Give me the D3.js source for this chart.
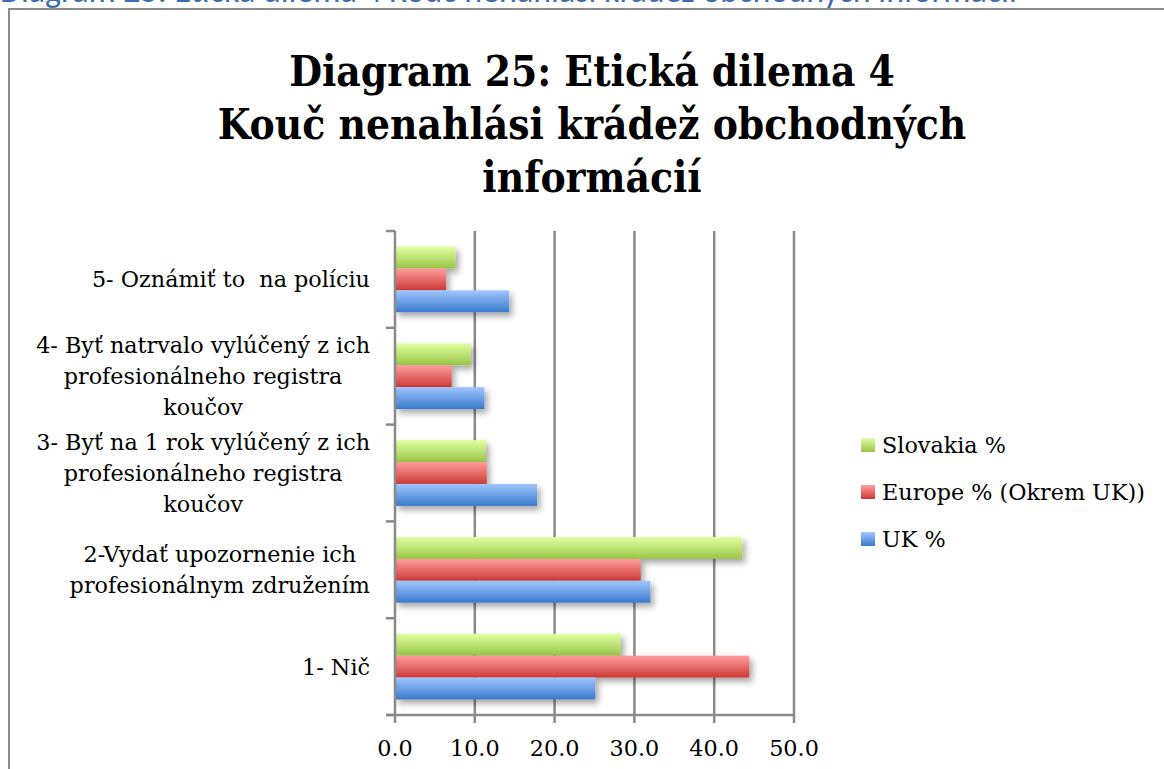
<!DOCTYPE html>
<html><head><meta charset="utf-8">
<script src="https://cdn.jsdelivr.net/npm/d3@7"></script>
<style>
html,body{margin:0;padding:0;background:#fff;overflow:hidden;}
svg{display:block;}
text{white-space:pre;}
</style></head>
<body>
<svg id="chart" width="1164" height="769"></svg>
<script>
// ---- data ----
const categories = [
  "5- Oznámiť to  na políciu",
  "4- Byť natrvalo vylúčený z ich\nprofesionálneho registra\nkoučov",
  "3- Byť na 1 rok vylúčený z ich\nprofesionálneho registra\nkoučov",
  "2-Vydať upozornenie ich\nprofesionálnym združením",
  "1- Nič"
];
const seriesNames = ["Slovakia %", "Europe % (Okrem UK))", "UK %"];
const slovakia = [7.6, 9.5, 11.4, 43.5, 28.3];
const europe   = [6.4, 7.1, 11.5, 30.8, 44.4];
const uk       = [14.3, 11.2, 17.8, 32.0, 25.1];
const xTicks = [0, 10, 20, 30, 40, 50];
const titleLines = ["Diagram 25: Etická dilema 4", "Kouč nenahlási krádež obchodných", "informácií"];
const captionText = "Diagram 25: Etická dilema 4 Kouč nenahlási krádež obchodných informácií";

const seriesValues = [slovakia, europe, uk];
const gradStops = [["#e0ffa2", "#9ac548"], ["#ff9e9c", "#cc3935"], ["#a0c6ff", "#3a7acb"]];

const svg = d3.select("#chart");
const defs = svg.append("defs");
gradStops.forEach((g, i) => {
  const lg = defs.append("linearGradient").attr("id", "g" + i)
    .attr("x1", 0).attr("y1", 0).attr("x2", 0).attr("y2", 1);
  lg.append("stop").attr("offset", "0%").attr("stop-color", g[0]);
  lg.append("stop").attr("offset", "100%").attr("stop-color", g[1]);
});
const f = defs.append("filter").attr("id", "shadow")
  .attr("x", "-10%").attr("y", "-30%").attr("width", "130%").attr("height", "180%");
f.append("feDropShadow").attr("dx", 3).attr("dy", 4).attr("stdDeviation", 3)
  .attr("flood-color", "#000").attr("flood-opacity", 0.35);

// caption clipped at top (as in the reference)
svg.append("text").attr("x", 0).attr("y", 2)
  .attr("font-family", "Carlito, 'Open Sans', sans-serif").attr("font-size", 34)
  .attr("fill", "#3d6cb0").text(captionText);

// frame
svg.append("rect").attr("x", 9).attr("y", 9).attr("width", 1200).attr("height", 800)
  .attr("fill", "#fff").attr("stroke", "#8a8a8a").attr("stroke-width", 2);

// title
const titleFont = "'DejaVu Serif Condensed', 'Liberation Serif', serif";
svg.append("g").selectAll("text").data(titleLines).join("text")
  .attr("x", 592).attr("y", (d, i) => 86 + i * 53)
  .attr("text-anchor", "middle")
  .attr("font-family", titleFont).attr("font-weight", "bold").attr("font-size", 42)
  .attr("fill", "#000").text(d => d);

// scales
const x = d3.scaleLinear().domain([0, 50]).range([395, 794]);
const y = d3.scaleBand().domain(d3.range(categories.length)).range([231, 715]).padding(0);
const inner = d3.scaleBand().domain(d3.range(seriesNames.length)).range([0, y.bandwidth()])
  .paddingInner(0).paddingOuter(0.71);

const gridColor = "#8a8a8a";
// gridlines
svg.append("g").selectAll("line").data(xTicks.slice(1)).join("line")
  .attr("x1", d => x(d)).attr("x2", d => x(d)).attr("y1", 231).attr("y2", 723)
  .attr("stroke", gridColor).attr("stroke-width", 2.5);

// bars
const bars = svg.append("g");
categories.forEach((c, ci) => {
  seriesValues.forEach((vals, si) => {
    bars.append("rect")
      .attr("x", x(0)).attr("y", y(ci) + inner(si))
      .attr("width", x(vals[ci]) - x(0)).attr("height", inner.bandwidth())
      .attr("fill", `url(#g${si})`).attr("filter", "url(#shadow)");
  });
});

// y axis
svg.append("line").attr("x1", x(0)).attr("x2", x(0)).attr("y1", 231).attr("y2", 723)
  .attr("stroke", gridColor).attr("stroke-width", 2.5);
const yTickPos = d3.range(categories.length + 1).map(i => 231 + i * y.step());
svg.append("g").selectAll("line").data(yTickPos).join("line")
  .attr("x1", 386).attr("x2", x(0)).attr("y1", d => d).attr("y2", d => d)
  .attr("stroke", gridColor).attr("stroke-width", 2.5);
// x axis
svg.append("line").attr("x1", 386).attr("x2", x(50)).attr("y1", 715).attr("y2", 715)
  .attr("stroke", gridColor).attr("stroke-width", 2.5);

const bodyFont = "'DejaVu Serif', serif";
const bodySize = 22.3;
svg.append("g").selectAll("text").data(xTicks).join("text")
  .attr("x", d => x(d)).attr("y", 756).attr("text-anchor", "middle")
  .attr("font-family", bodyFont).attr("font-size", bodySize).attr("fill", "#000")
  .text(d3.format(".1f"));

// category labels: block centered, right-aligned at 370
const lh = 31;
categories.forEach((c, ci) => {
  const lines = c.split("\n");
  const g = svg.append("g");
  const texts = g.selectAll("text").data(lines).join("text")
    .attr("font-family", bodyFont).attr("font-size", bodySize).attr("fill", "#000")
    .attr("text-anchor", "middle")
    .attr("y", (d, i) => y(ci) + y.bandwidth() / 2 + (i - (lines.length - 1) / 2) * lh + 8)
    .text(d => d);
  let maxW = 0;
  texts.each(function () { maxW = Math.max(maxW, this.getComputedTextLength()); });
  texts.attr("x", 370 - maxW / 2);
});

// legend
const leg = svg.append("g");
seriesNames.forEach((n, i) => {
  const cy = 445 + i * 47;
  leg.append("rect").attr("x", 861).attr("y", cy - 7).attr("width", 14).attr("height", 14)
    .attr("fill", `url(#g${i})`);
  leg.append("text").attr("x", 882).attr("y", cy + 8)
    .attr("font-family", bodyFont).attr("font-size", bodySize).attr("fill", "#000").text(n);
});
</script>
</body></html>
